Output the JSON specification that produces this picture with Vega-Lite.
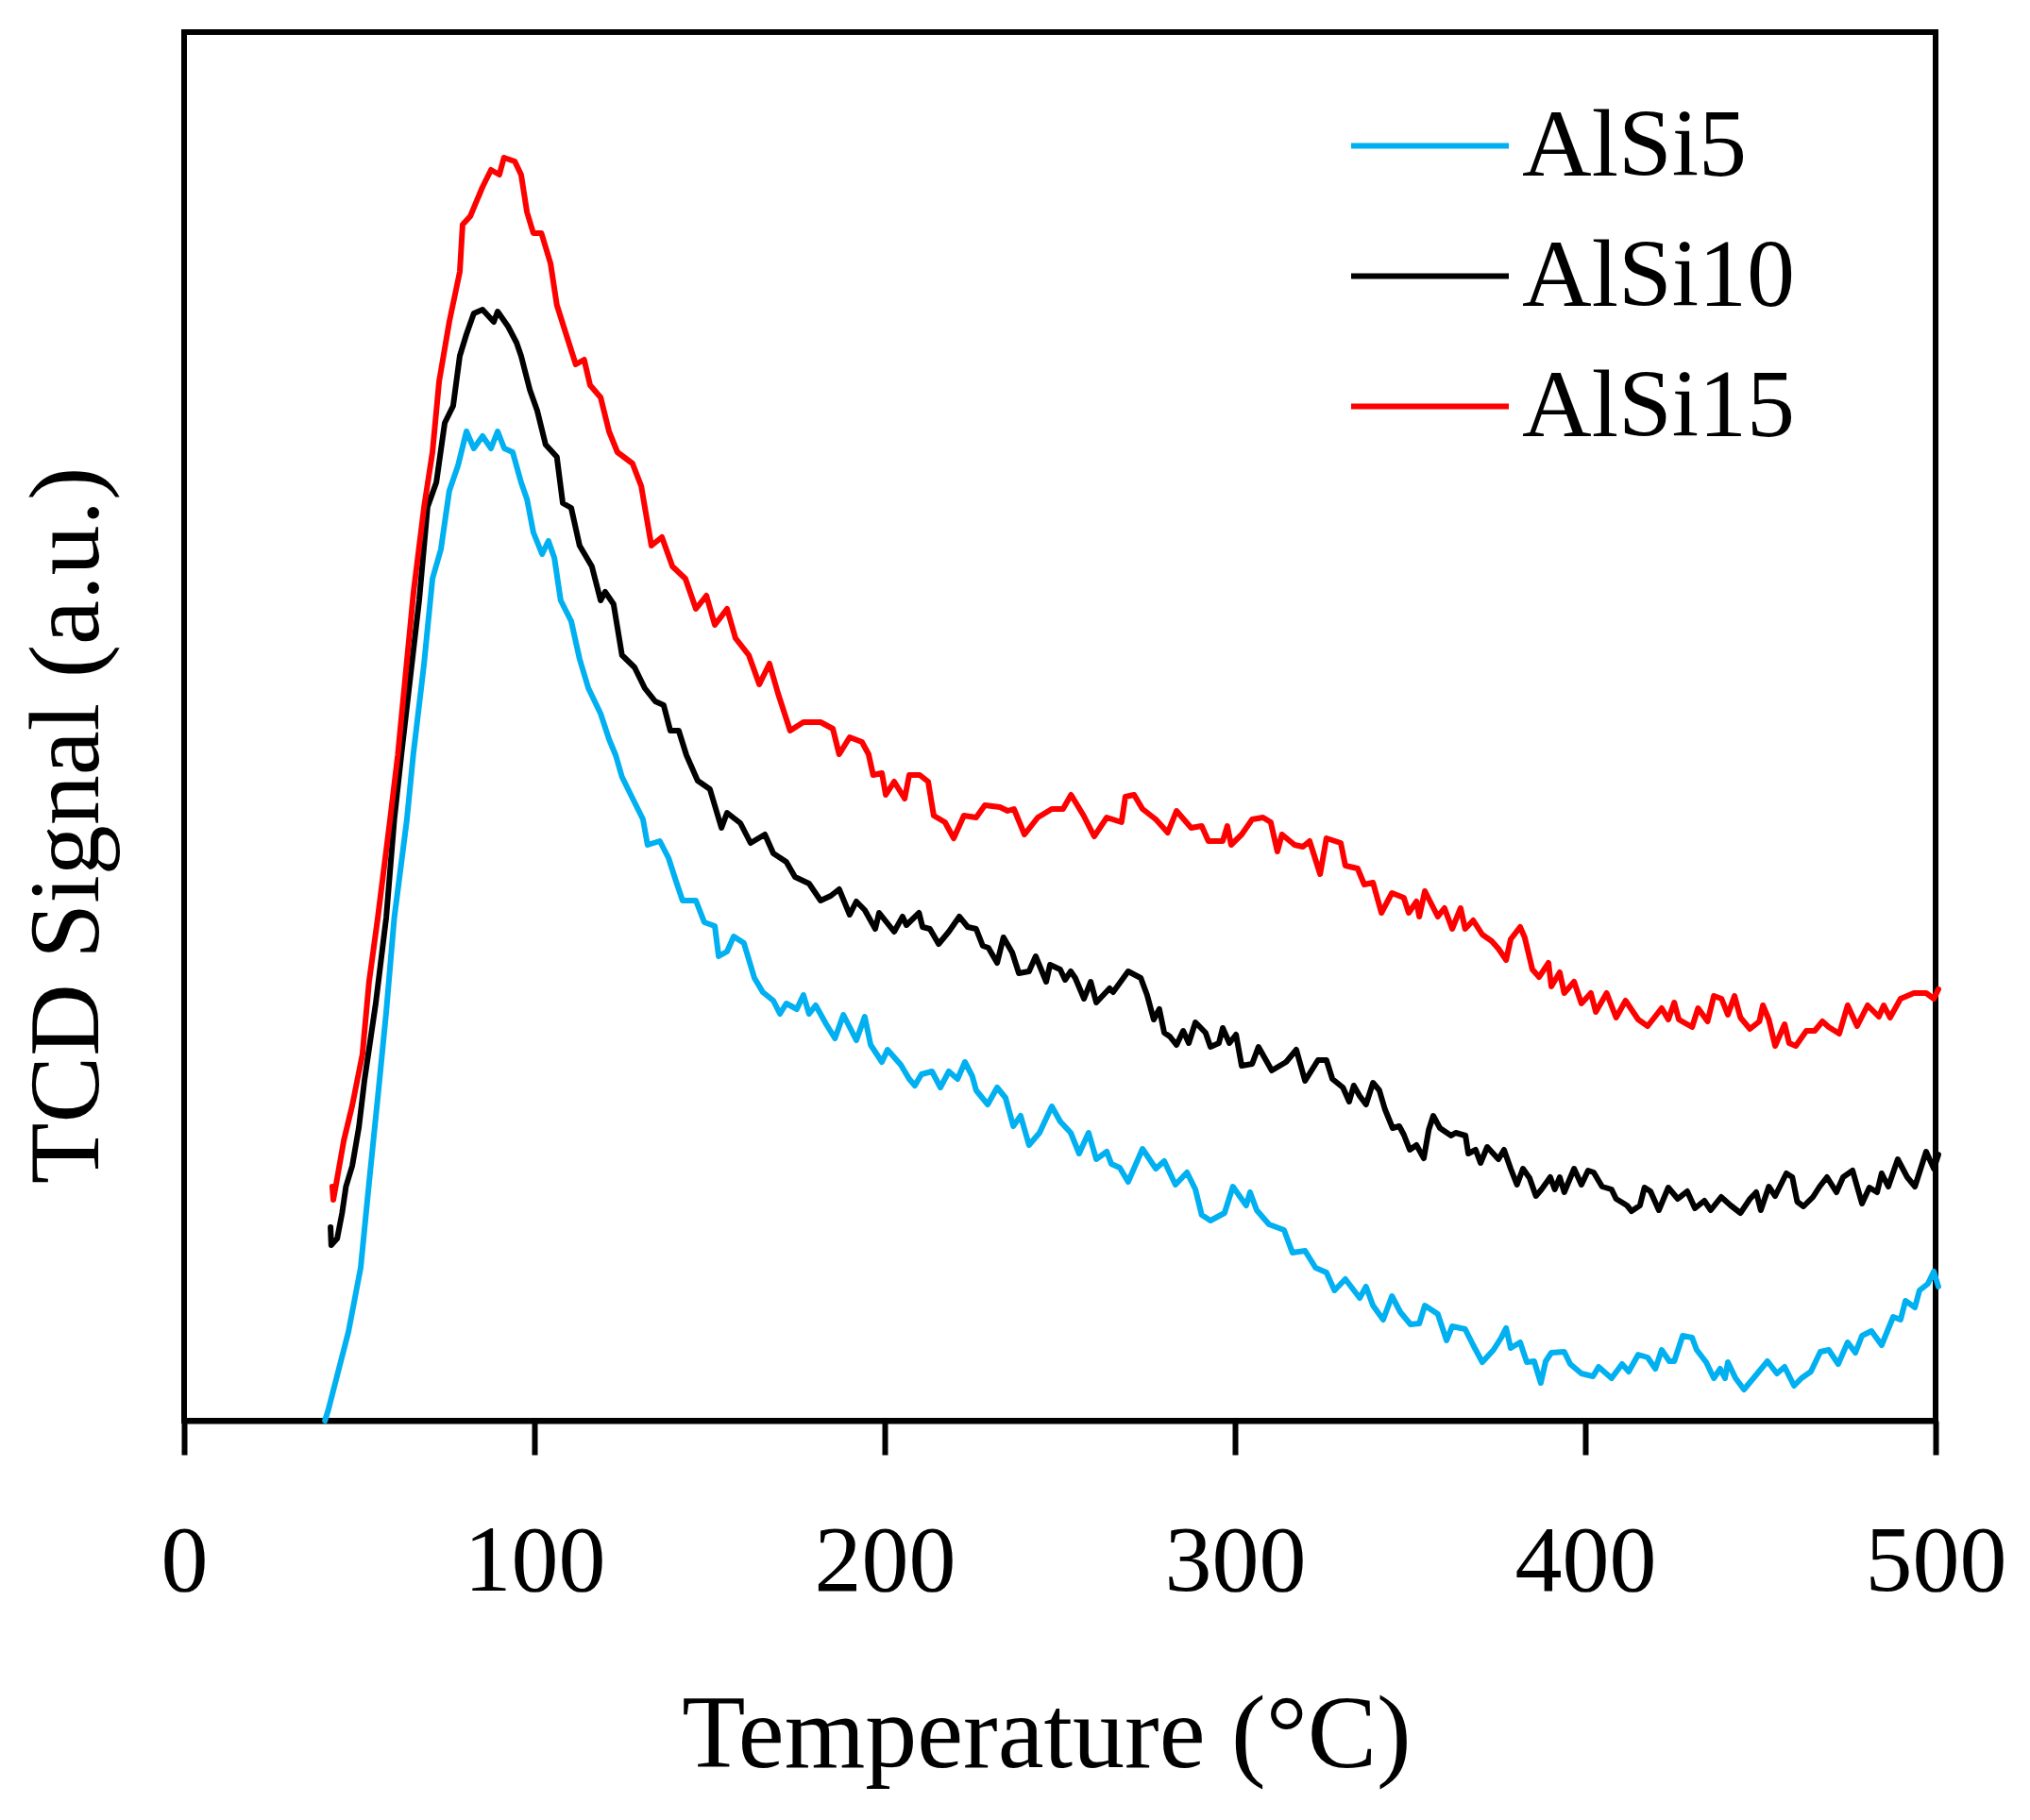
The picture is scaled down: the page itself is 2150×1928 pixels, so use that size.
{
  "$schema": "https://vega.github.io/schema/vega-lite/v6.json",
  "width": 1855,
  "height": 1471,
  "autosize": {"type": "none"},
  "padding": {"left": 195, "top": 34, "right": 100, "bottom": 423},
  "background": "white",
  "config": {
    "view": {"stroke": "black", "strokeWidth": 6},
    "font": "Liberation Serif",
    "legend": {
      "orient": "none",
      "legendX": 1233,
      "legendY": 34,
      "title": null,
      "symbolType": "stroke",
      "symbolSize": 27889,
      "symbolStrokeWidth": 6,
      "labelFont": "Liberation Serif",
      "labelFontSize": 102,
      "labelColor": "black",
      "labelOffset": 11,
      "rowPadding": -10,
      "labelLimit": 600
    }
  },
  "data": {
    "values": [
      {"s": "AlSi5", "t": 40.2, "v": 0}, {"s": "AlSi5", "t": 41.2, "v": 12}, {"s": "AlSi5", "t": 43.7, "v": 48}, {"s": "AlSi5", "t": 46.9, "v": 94},
      {"s": "AlSi5", "t": 50.4, "v": 162}, {"s": "AlSi5", "t": 52.8, "v": 252}, {"s": "AlSi5", "t": 55.3, "v": 343}, {"s": "AlSi5", "t": 57.7, "v": 433},
      {"s": "AlSi5", "t": 60, "v": 533}, {"s": "AlSi5", "t": 63.6, "v": 637}, {"s": "AlSi5", "t": 65.4, "v": 705}, {"s": "AlSi5", "t": 68.5, "v": 802},
      {"s": "AlSi5", "t": 70.9, "v": 892}, {"s": "AlSi5", "t": 73.3, "v": 923}, {"s": "AlSi5", "t": 75.7, "v": 985}, {"s": "AlSi5", "t": 78.2, "v": 1012},
      {"s": "AlSi5", "t": 80.6, "v": 1048}, {"s": "AlSi5", "t": 82.7, "v": 1030}, {"s": "AlSi5", "t": 85.2, "v": 1043}, {"s": "AlSi5", "t": 87.6, "v": 1030},
      {"s": "AlSi5", "t": 89.5, "v": 1048}, {"s": "AlSi5", "t": 91.4, "v": 1030}, {"s": "AlSi5", "t": 93.8, "v": 1026}, {"s": "AlSi5", "t": 96.2, "v": 994},
      {"s": "AlSi5", "t": 97.9, "v": 976}, {"s": "AlSi5", "t": 99.7, "v": 941}, {"s": "AlSi5", "t": 102.2, "v": 918}, {"s": "AlSi5", "t": 104, "v": 932},
      {"s": "AlSi5", "t": 105.7, "v": 914}, {"s": "AlSi5", "t": 107.5, "v": 869}, {"s": "AlSi5", "t": 110.5, "v": 847}, {"s": "AlSi5", "t": 112.9, "v": 807},
      {"s": "AlSi5", "t": 115.4, "v": 776}, {"s": "AlSi5", "t": 118.9, "v": 749}, {"s": "AlSi5", "t": 121.3, "v": 722}, {"s": "AlSi5", "t": 123.2, "v": 705},
      {"s": "AlSi5", "t": 125, "v": 682}, {"s": "AlSi5", "t": 128.6, "v": 655}, {"s": "AlSi5", "t": 131, "v": 637}, {"s": "AlSi5", "t": 132.3, "v": 610},
      {"s": "AlSi5", "t": 135.8, "v": 614}, {"s": "AlSi5", "t": 138.3, "v": 596}, {"s": "AlSi5", "t": 140.2, "v": 574}, {"s": "AlSi5", "t": 142.3, "v": 551},
      {"s": "AlSi5", "t": 146.1, "v": 551}, {"s": "AlSi5", "t": 148.5, "v": 528}, {"s": "AlSi5", "t": 151.5, "v": 524}, {"s": "AlSi5", "t": 152.6, "v": 492},
      {"s": "AlSi5", "t": 155, "v": 497}, {"s": "AlSi5", "t": 156.9, "v": 513}, {"s": "AlSi5", "t": 159.8, "v": 506}, {"s": "AlSi5", "t": 162.8, "v": 469},
      {"s": "AlSi5", "t": 165.2, "v": 454}, {"s": "AlSi5", "t": 168.2, "v": 445}, {"s": "AlSi5", "t": 170.1, "v": 431}, {"s": "AlSi5", "t": 171.9, "v": 442},
      {"s": "AlSi5", "t": 174.9, "v": 436}, {"s": "AlSi5", "t": 176.8, "v": 451}, {"s": "AlSi5", "t": 178.4, "v": 431}, {"s": "AlSi5", "t": 180.3, "v": 440},
      {"s": "AlSi5", "t": 183.3, "v": 420}, {"s": "AlSi5", "t": 185.8, "v": 405}, {"s": "AlSi5", "t": 188.2, "v": 430}, {"s": "AlSi5", "t": 191.9, "v": 403},
      {"s": "AlSi5", "t": 194.3, "v": 428}, {"s": "AlSi5", "t": 196, "v": 398}, {"s": "AlSi5", "t": 199.2, "v": 380}, {"s": "AlSi5", "t": 200.8, "v": 393},
      {"s": "AlSi5", "t": 204.6, "v": 377}, {"s": "AlSi5", "t": 207, "v": 362}, {"s": "AlSi5", "t": 208.6, "v": 355}, {"s": "AlSi5", "t": 210.5, "v": 367},
      {"s": "AlSi5", "t": 213.5, "v": 370}, {"s": "AlSi5", "t": 215.9, "v": 353}, {"s": "AlSi5", "t": 218.3, "v": 370}, {"s": "AlSi5", "t": 220.8, "v": 362},
      {"s": "AlSi5", "t": 222.9, "v": 380}, {"s": "AlSi5", "t": 225, "v": 365}, {"s": "AlSi5", "t": 226.1, "v": 350}, {"s": "AlSi5", "t": 229.4, "v": 335},
      {"s": "AlSi5", "t": 232.1, "v": 353}, {"s": "AlSi5", "t": 234.5, "v": 342}, {"s": "AlSi5", "t": 236.7, "v": 312}, {"s": "AlSi5", "t": 238.8, "v": 323},
      {"s": "AlSi5", "t": 241.2, "v": 292}, {"s": "AlSi5", "t": 244.2, "v": 305}, {"s": "AlSi5", "t": 247.7, "v": 333}, {"s": "AlSi5", "t": 250.1, "v": 317},
      {"s": "AlSi5", "t": 253.1, "v": 305}, {"s": "AlSi5", "t": 255.5, "v": 283}, {"s": "AlSi5", "t": 258.2, "v": 305}, {"s": "AlSi5", "t": 260.4, "v": 277},
      {"s": "AlSi5", "t": 263.4, "v": 285}, {"s": "AlSi5", "t": 264.7, "v": 272}, {"s": "AlSi5", "t": 267.1, "v": 268}, {"s": "AlSi5", "t": 269.5, "v": 253},
      {"s": "AlSi5", "t": 273.6, "v": 288}, {"s": "AlSi5", "t": 277.4, "v": 267}, {"s": "AlSi5", "t": 279.8, "v": 275}, {"s": "AlSi5", "t": 283, "v": 250},
      {"s": "AlSi5", "t": 286.3, "v": 263}, {"s": "AlSi5", "t": 288.7, "v": 245}, {"s": "AlSi5", "t": 290.5, "v": 218}, {"s": "AlSi5", "t": 293, "v": 212},
      {"s": "AlSi5", "t": 297, "v": 220}, {"s": "AlSi5", "t": 299.4, "v": 248}, {"s": "AlSi5", "t": 303.2, "v": 228}, {"s": "AlSi5", "t": 304.3, "v": 242},
      {"s": "AlSi5", "t": 306.2, "v": 223}, {"s": "AlSi5", "t": 309.7, "v": 208}, {"s": "AlSi5", "t": 314, "v": 202}, {"s": "AlSi5", "t": 316.4, "v": 178},
      {"s": "AlSi5", "t": 320, "v": 180}, {"s": "AlSi5", "t": 323, "v": 162}, {"s": "AlSi5", "t": 326.1, "v": 157}, {"s": "AlSi5", "t": 328.4, "v": 138},
      {"s": "AlSi5", "t": 331.5, "v": 150}, {"s": "AlSi5", "t": 335.6, "v": 130}, {"s": "AlSi5", "t": 337.4, "v": 142}, {"s": "AlSi5", "t": 339.4, "v": 122},
      {"s": "AlSi5", "t": 342.3, "v": 107}, {"s": "AlSi5", "t": 344.8, "v": 132}, {"s": "AlSi5", "t": 347.2, "v": 115}, {"s": "AlSi5", "t": 350.1, "v": 102},
      {"s": "AlSi5", "t": 352.6, "v": 103}, {"s": "AlSi5", "t": 354.2, "v": 122}, {"s": "AlSi5", "t": 357.9, "v": 113}, {"s": "AlSi5", "t": 360.4, "v": 85},
      {"s": "AlSi5", "t": 362, "v": 100}, {"s": "AlSi5", "t": 365.7, "v": 97}, {"s": "AlSi5", "t": 368, "v": 80}, {"s": "AlSi5", "t": 370.6, "v": 62},
      {"s": "AlSi5", "t": 373.8, "v": 75}, {"s": "AlSi5", "t": 376, "v": 88}, {"s": "AlSi5", "t": 377.4, "v": 98}, {"s": "AlSi5", "t": 378.7, "v": 77},
      {"s": "AlSi5", "t": 381.4, "v": 83}, {"s": "AlSi5", "t": 383.3, "v": 62}, {"s": "AlSi5", "t": 385.4, "v": 63}, {"s": "AlSi5", "t": 387.3, "v": 40},
      {"s": "AlSi5", "t": 388.7, "v": 63}, {"s": "AlSi5", "t": 390.3, "v": 72}, {"s": "AlSi5", "t": 394, "v": 73}, {"s": "AlSi5", "t": 395.7, "v": 60},
      {"s": "AlSi5", "t": 398.9, "v": 50}, {"s": "AlSi5", "t": 402.2, "v": 47}, {"s": "AlSi5", "t": 403.8, "v": 57}, {"s": "AlSi5", "t": 407.5, "v": 45},
      {"s": "AlSi5", "t": 410.5, "v": 60}, {"s": "AlSi5", "t": 412.4, "v": 52}, {"s": "AlSi5", "t": 415.1, "v": 70}, {"s": "AlSi5", "t": 417.8, "v": 67},
      {"s": "AlSi5", "t": 420, "v": 55}, {"s": "AlSi5", "t": 421.8, "v": 75}, {"s": "AlSi5", "t": 424, "v": 63}, {"s": "AlSi5", "t": 425.4, "v": 63},
      {"s": "AlSi5", "t": 427.8, "v": 90}, {"s": "AlSi5", "t": 430.5, "v": 88}, {"s": "AlSi5", "t": 431.8, "v": 75}, {"s": "AlSi5", "t": 434.5, "v": 62},
      {"s": "AlSi5", "t": 436.7, "v": 45}, {"s": "AlSi5", "t": 438.5, "v": 55}, {"s": "AlSi5", "t": 439.9, "v": 45}, {"s": "AlSi5", "t": 440.7, "v": 62},
      {"s": "AlSi5", "t": 442.9, "v": 45}, {"s": "AlSi5", "t": 445.3, "v": 33}, {"s": "AlSi5", "t": 448, "v": 45}, {"s": "AlSi5", "t": 452, "v": 63},
      {"s": "AlSi5", "t": 454.7, "v": 50}, {"s": "AlSi5", "t": 456.9, "v": 57}, {"s": "AlSi5", "t": 459.6, "v": 37}, {"s": "AlSi5", "t": 461.7, "v": 45},
      {"s": "AlSi5", "t": 464.4, "v": 52}, {"s": "AlSi5", "t": 467.1, "v": 73}, {"s": "AlSi5", "t": 469.5, "v": 75}, {"s": "AlSi5", "t": 472.2, "v": 60},
      {"s": "AlSi5", "t": 474.9, "v": 83}, {"s": "AlSi5", "t": 477.1, "v": 72}, {"s": "AlSi5", "t": 479, "v": 90}, {"s": "AlSi5", "t": 481.7, "v": 95},
      {"s": "AlSi5", "t": 484.6, "v": 80}, {"s": "AlSi5", "t": 487.9, "v": 110}, {"s": "AlSi5", "t": 490, "v": 107}, {"s": "AlSi5", "t": 491.4, "v": 127},
      {"s": "AlSi5", "t": 494.1, "v": 120}, {"s": "AlSi5", "t": 495.4, "v": 138}, {"s": "AlSi5", "t": 497.8, "v": 145}, {"s": "AlSi5", "t": 499.5, "v": 158},
      {"s": "AlSi5", "t": 500.8, "v": 142},

      {"s": "AlSi10", "t": 41.8, "v": 205}, {"s": "AlSi10", "t": 42, "v": 186}, {"s": "AlSi10", "t": 43.7, "v": 193}, {"s": "AlSi10", "t": 45.1, "v": 220},
      {"s": "AlSi10", "t": 46.2, "v": 248}, {"s": "AlSi10", "t": 48, "v": 270}, {"s": "AlSi10", "t": 49.9, "v": 311}, {"s": "AlSi10", "t": 51.5, "v": 361},
      {"s": "AlSi10", "t": 54.7, "v": 442}, {"s": "AlSi10", "t": 57.7, "v": 533}, {"s": "AlSi10", "t": 60, "v": 637}, {"s": "AlSi10", "t": 62, "v": 705},
      {"s": "AlSi10", "t": 67.1, "v": 869}, {"s": "AlSi10", "t": 69.5, "v": 968}, {"s": "AlSi10", "t": 72, "v": 994}, {"s": "AlSi10", "t": 74.4, "v": 1057},
      {"s": "AlSi10", "t": 76.8, "v": 1075}, {"s": "AlSi10", "t": 78.7, "v": 1128}, {"s": "AlSi10", "t": 80.6, "v": 1151}, {"s": "AlSi10", "t": 82.7, "v": 1173},
      {"s": "AlSi10", "t": 85.2, "v": 1177}, {"s": "AlSi10", "t": 88.4, "v": 1164}, {"s": "AlSi10", "t": 89.5, "v": 1175}, {"s": "AlSi10", "t": 92.5, "v": 1159},
      {"s": "AlSi10", "t": 94.9, "v": 1142}, {"s": "AlSi10", "t": 96.2, "v": 1128}, {"s": "AlSi10", "t": 98.7, "v": 1092}, {"s": "AlSi10", "t": 100.8, "v": 1070},
      {"s": "AlSi10", "t": 103.2, "v": 1034}, {"s": "AlSi10", "t": 106.4, "v": 1021}, {"s": "AlSi10", "t": 108.1, "v": 972}, {"s": "AlSi10", "t": 110.5, "v": 967},
      {"s": "AlSi10", "t": 112.9, "v": 927}, {"s": "AlSi10", "t": 116.4, "v": 905}, {"s": "AlSi10", "t": 118.9, "v": 869}, {"s": "AlSi10", "t": 120.2, "v": 878},
      {"s": "AlSi10", "t": 122.6, "v": 865}, {"s": "AlSi10", "t": 125, "v": 811}, {"s": "AlSi10", "t": 128.6, "v": 798}, {"s": "AlSi10", "t": 131.5, "v": 776},
      {"s": "AlSi10", "t": 134.5, "v": 762}, {"s": "AlSi10", "t": 136.9, "v": 758}, {"s": "AlSi10", "t": 138.8, "v": 731}, {"s": "AlSi10", "t": 141.2, "v": 731},
      {"s": "AlSi10", "t": 143.4, "v": 705}, {"s": "AlSi10", "t": 146.6, "v": 678}, {"s": "AlSi10", "t": 150.1, "v": 669}, {"s": "AlSi10", "t": 153.4, "v": 628},
      {"s": "AlSi10", "t": 155, "v": 644}, {"s": "AlSi10", "t": 158.8, "v": 633}, {"s": "AlSi10", "t": 161.7, "v": 612}, {"s": "AlSi10", "t": 165.8, "v": 621},
      {"s": "AlSi10", "t": 168.2, "v": 601}, {"s": "AlSi10", "t": 171.9, "v": 592}, {"s": "AlSi10", "t": 174.4, "v": 576}, {"s": "AlSi10", "t": 178.4, "v": 569},
      {"s": "AlSi10", "t": 181.7, "v": 551}, {"s": "AlSi10", "t": 184.6, "v": 556}, {"s": "AlSi10", "t": 187, "v": 563}, {"s": "AlSi10", "t": 190, "v": 536},
      {"s": "AlSi10", "t": 191.9, "v": 550}, {"s": "AlSi10", "t": 194.3, "v": 541}, {"s": "AlSi10", "t": 197.3, "v": 521}, {"s": "AlSi10", "t": 198.4, "v": 538},
      {"s": "AlSi10", "t": 202.7, "v": 518}, {"s": "AlSi10", "t": 205.1, "v": 534}, {"s": "AlSi10", "t": 206.2, "v": 525}, {"s": "AlSi10", "t": 209.8, "v": 538},
      {"s": "AlSi10", "t": 210.8, "v": 523}, {"s": "AlSi10", "t": 212.9, "v": 521}, {"s": "AlSi10", "t": 215.4, "v": 505}, {"s": "AlSi10", "t": 218.3, "v": 518},
      {"s": "AlSi10", "t": 221.3, "v": 534}, {"s": "AlSi10", "t": 223.7, "v": 523}, {"s": "AlSi10", "t": 226.1, "v": 521}, {"s": "AlSi10", "t": 228, "v": 503},
      {"s": "AlSi10", "t": 229.6, "v": 501}, {"s": "AlSi10", "t": 232.1, "v": 485}, {"s": "AlSi10", "t": 233.9, "v": 512}, {"s": "AlSi10", "t": 236.4, "v": 496},
      {"s": "AlSi10", "t": 238.3, "v": 474}, {"s": "AlSi10", "t": 241.2, "v": 476}, {"s": "AlSi10", "t": 243.1, "v": 492}, {"s": "AlSi10", "t": 246.1, "v": 465},
      {"s": "AlSi10", "t": 247.2, "v": 483}, {"s": "AlSi10", "t": 250.1, "v": 478}, {"s": "AlSi10", "t": 251.5, "v": 467}, {"s": "AlSi10", "t": 253.1, "v": 476},
      {"s": "AlSi10", "t": 254.4, "v": 469}, {"s": "AlSi10", "t": 256.9, "v": 447}, {"s": "AlSi10", "t": 258.8, "v": 465}, {"s": "AlSi10", "t": 260.4, "v": 443},
      {"s": "AlSi10", "t": 264.2, "v": 458}, {"s": "AlSi10", "t": 265.2, "v": 454}, {"s": "AlSi10", "t": 269.5, "v": 476}, {"s": "AlSi10", "t": 273.1, "v": 469},
      {"s": "AlSi10", "t": 274.9, "v": 451}, {"s": "AlSi10", "t": 276.8, "v": 425}, {"s": "AlSi10", "t": 278.4, "v": 436}, {"s": "AlSi10", "t": 279.8, "v": 411},
      {"s": "AlSi10", "t": 281.4, "v": 407}, {"s": "AlSi10", "t": 283.3, "v": 398}, {"s": "AlSi10", "t": 285.2, "v": 413}, {"s": "AlSi10", "t": 286.8, "v": 400},
      {"s": "AlSi10", "t": 288.7, "v": 422}, {"s": "AlSi10", "t": 291.6, "v": 411}, {"s": "AlSi10", "t": 293, "v": 396}, {"s": "AlSi10", "t": 295.4, "v": 400},
      {"s": "AlSi10", "t": 296.5, "v": 416}, {"s": "AlSi10", "t": 298.4, "v": 400}, {"s": "AlSi10", "t": 300.3, "v": 409}, {"s": "AlSi10", "t": 301.9, "v": 376},
      {"s": "AlSi10", "t": 304.9, "v": 378}, {"s": "AlSi10", "t": 306.7, "v": 396}, {"s": "AlSi10", "t": 310.5, "v": 371}, {"s": "AlSi10", "t": 314.6, "v": 380},
      {"s": "AlSi10", "t": 317.5, "v": 393}, {"s": "AlSi10", "t": 320, "v": 360}, {"s": "AlSi10", "t": 323.7, "v": 382}, {"s": "AlSi10", "t": 326.1, "v": 382},
      {"s": "AlSi10", "t": 327.8, "v": 362}, {"s": "AlSi10", "t": 330.8, "v": 353}, {"s": "AlSi10", "t": 332.6, "v": 338}, {"s": "AlSi10", "t": 333.9, "v": 355},
      {"s": "AlSi10", "t": 335.6, "v": 344}, {"s": "AlSi10", "t": 337.4, "v": 335}, {"s": "AlSi10", "t": 339.4, "v": 358}, {"s": "AlSi10", "t": 341.2, "v": 350},
      {"s": "AlSi10", "t": 342.8, "v": 330}, {"s": "AlSi10", "t": 345, "v": 310}, {"s": "AlSi10", "t": 346.9, "v": 312}, {"s": "AlSi10", "t": 348.2, "v": 303},
      {"s": "AlSi10", "t": 349.9, "v": 287}, {"s": "AlSi10", "t": 351.8, "v": 292}, {"s": "AlSi10", "t": 353.9, "v": 278}, {"s": "AlSi10", "t": 355.3, "v": 308},
      {"s": "AlSi10", "t": 356.6, "v": 323}, {"s": "AlSi10", "t": 358.5, "v": 310}, {"s": "AlSi10", "t": 361.7, "v": 302}, {"s": "AlSi10", "t": 363, "v": 305},
      {"s": "AlSi10", "t": 365.8, "v": 302}, {"s": "AlSi10", "t": 366.6, "v": 283}, {"s": "AlSi10", "t": 368.7, "v": 287}, {"s": "AlSi10", "t": 370.1, "v": 273},
      {"s": "AlSi10", "t": 372, "v": 290}, {"s": "AlSi10", "t": 375.2, "v": 277}, {"s": "AlSi10", "t": 376.8, "v": 287}, {"s": "AlSi10", "t": 378.7, "v": 267},
      {"s": "AlSi10", "t": 380.5, "v": 250}, {"s": "AlSi10", "t": 382.2, "v": 267}, {"s": "AlSi10", "t": 384.1, "v": 257}, {"s": "AlSi10", "t": 385.9, "v": 238},
      {"s": "AlSi10", "t": 387.5, "v": 245}, {"s": "AlSi10", "t": 390, "v": 258}, {"s": "AlSi10", "t": 391.3, "v": 245}, {"s": "AlSi10", "t": 392.7, "v": 258},
      {"s": "AlSi10", "t": 394, "v": 242}, {"s": "AlSi10", "t": 396.8, "v": 267}, {"s": "AlSi10", "t": 398.9, "v": 250}, {"s": "AlSi10", "t": 400.8, "v": 265},
      {"s": "AlSi10", "t": 402.4, "v": 263}, {"s": "AlSi10", "t": 404.8, "v": 248}, {"s": "AlSi10", "t": 407.5, "v": 245}, {"s": "AlSi10", "t": 408.8, "v": 235},
      {"s": "AlSi10", "t": 411.9, "v": 228}, {"s": "AlSi10", "t": 413.2, "v": 222}, {"s": "AlSi10", "t": 415.6, "v": 228}, {"s": "AlSi10", "t": 416.9, "v": 247},
      {"s": "AlSi10", "t": 418.6, "v": 243}, {"s": "AlSi10", "t": 421, "v": 223}, {"s": "AlSi10", "t": 423.7, "v": 247}, {"s": "AlSi10", "t": 426.4, "v": 235},
      {"s": "AlSi10", "t": 429.1, "v": 243}, {"s": "AlSi10", "t": 431.3, "v": 225}, {"s": "AlSi10", "t": 434, "v": 233}, {"s": "AlSi10", "t": 435.8, "v": 223},
      {"s": "AlSi10", "t": 438.8, "v": 237}, {"s": "AlSi10", "t": 441.5, "v": 228}, {"s": "AlSi10", "t": 444.3, "v": 220}, {"s": "AlSi10", "t": 447, "v": 235},
      {"s": "AlSi10", "t": 448.8, "v": 242}, {"s": "AlSi10", "t": 450.1, "v": 223}, {"s": "AlSi10", "t": 452.4, "v": 248}, {"s": "AlSi10", "t": 454.2, "v": 238},
      {"s": "AlSi10", "t": 457.4, "v": 262}, {"s": "AlSi10", "t": 459.1, "v": 258}, {"s": "AlSi10", "t": 460.5, "v": 232}, {"s": "AlSi10", "t": 462.3, "v": 227},
      {"s": "AlSi10", "t": 465, "v": 237}, {"s": "AlSi10", "t": 466.9, "v": 248}, {"s": "AlSi10", "t": 469, "v": 258}, {"s": "AlSi10", "t": 471.7, "v": 242},
      {"s": "AlSi10", "t": 473.6, "v": 258}, {"s": "AlSi10", "t": 476.3, "v": 265}, {"s": "AlSi10", "t": 479, "v": 230}, {"s": "AlSi10", "t": 481.1, "v": 247},
      {"s": "AlSi10", "t": 483.3, "v": 242}, {"s": "AlSi10", "t": 484.6, "v": 262}, {"s": "AlSi10", "t": 486.5, "v": 248}, {"s": "AlSi10", "t": 489.2, "v": 277},
      {"s": "AlSi10", "t": 491.9, "v": 258}, {"s": "AlSi10", "t": 494.1, "v": 248}, {"s": "AlSi10", "t": 497.3, "v": 285}, {"s": "AlSi10", "t": 499.5, "v": 267},
      {"s": "AlSi10", "t": 500.8, "v": 282},

      {"s": "AlSi15", "t": 42.3, "v": 248}, {"s": "AlSi15", "t": 42.6, "v": 234}, {"s": "AlSi15", "t": 43.7, "v": 257}, {"s": "AlSi15", "t": 45.6, "v": 297},
      {"s": "AlSi15", "t": 48, "v": 334}, {"s": "AlSi15", "t": 50.9, "v": 388}, {"s": "AlSi15", "t": 52.8, "v": 465}, {"s": "AlSi15", "t": 55.3, "v": 533},
      {"s": "AlSi15", "t": 58.8, "v": 637}, {"s": "AlSi15", "t": 61, "v": 705}, {"s": "AlSi15", "t": 65.5, "v": 878}, {"s": "AlSi15", "t": 68.5, "v": 968},
      {"s": "AlSi15", "t": 70.9, "v": 1026}, {"s": "AlSi15", "t": 72.8, "v": 1101}, {"s": "AlSi15", "t": 75.7, "v": 1164}, {"s": "AlSi15", "t": 78.7, "v": 1217},
      {"s": "AlSi15", "t": 79.5, "v": 1267}, {"s": "AlSi15", "t": 81.7, "v": 1276}, {"s": "AlSi15", "t": 85.2, "v": 1307}, {"s": "AlSi15", "t": 87.6, "v": 1325},
      {"s": "AlSi15", "t": 90, "v": 1320}, {"s": "AlSi15", "t": 91.3, "v": 1338}, {"s": "AlSi15", "t": 94.4, "v": 1334}, {"s": "AlSi15", "t": 96.2, "v": 1320},
      {"s": "AlSi15", "t": 97.9, "v": 1280}, {"s": "AlSi15", "t": 99.7, "v": 1258}, {"s": "AlSi15", "t": 102, "v": 1258}, {"s": "AlSi15", "t": 104.6, "v": 1226},
      {"s": "AlSi15", "t": 106.4, "v": 1182}, {"s": "AlSi15", "t": 108.7, "v": 1155}, {"s": "AlSi15", "t": 111.8, "v": 1119}, {"s": "AlSi15", "t": 114.2, "v": 1124},
      {"s": "AlSi15", "t": 115.9, "v": 1097}, {"s": "AlSi15", "t": 118.9, "v": 1084}, {"s": "AlSi15", "t": 121.3, "v": 1048}, {"s": "AlSi15", "t": 123.7, "v": 1026},
      {"s": "AlSi15", "t": 128, "v": 1014}, {"s": "AlSi15", "t": 130.5, "v": 990}, {"s": "AlSi15", "t": 133.4, "v": 927}, {"s": "AlSi15", "t": 136.4, "v": 936},
      {"s": "AlSi15", "t": 139.4, "v": 905}, {"s": "AlSi15", "t": 143.1, "v": 892}, {"s": "AlSi15", "t": 146.1, "v": 860}, {"s": "AlSi15", "t": 149.1, "v": 874},
      {"s": "AlSi15", "t": 151.5, "v": 843}, {"s": "AlSi15", "t": 155, "v": 860}, {"s": "AlSi15", "t": 157.4, "v": 829}, {"s": "AlSi15", "t": 161.2, "v": 811},
      {"s": "AlSi15", "t": 164.2, "v": 780}, {"s": "AlSi15", "t": 167.1, "v": 802}, {"s": "AlSi15", "t": 169.5, "v": 771}, {"s": "AlSi15", "t": 173, "v": 731},
      {"s": "AlSi15", "t": 176.8, "v": 740}, {"s": "AlSi15", "t": 181.7, "v": 740}, {"s": "AlSi15", "t": 185.2, "v": 733}, {"s": "AlSi15", "t": 187, "v": 706},
      {"s": "AlSi15", "t": 190, "v": 724}, {"s": "AlSi15", "t": 193.5, "v": 719}, {"s": "AlSi15", "t": 195.4, "v": 706}, {"s": "AlSi15", "t": 196.7, "v": 684},
      {"s": "AlSi15", "t": 199.2, "v": 686}, {"s": "AlSi15", "t": 200.3, "v": 663}, {"s": "AlSi15", "t": 202.7, "v": 677}, {"s": "AlSi15", "t": 205.7, "v": 659},
      {"s": "AlSi15", "t": 207, "v": 684}, {"s": "AlSi15", "t": 210, "v": 684}, {"s": "AlSi15", "t": 212.4, "v": 677}, {"s": "AlSi15", "t": 214, "v": 641},
      {"s": "AlSi15", "t": 217.2, "v": 634}, {"s": "AlSi15", "t": 219.7, "v": 617}, {"s": "AlSi15", "t": 222.6, "v": 641}, {"s": "AlSi15", "t": 226.1, "v": 639},
      {"s": "AlSi15", "t": 228.6, "v": 652}, {"s": "AlSi15", "t": 232.9, "v": 650}, {"s": "AlSi15", "t": 235.1, "v": 646}, {"s": "AlSi15", "t": 236.9, "v": 648},
      {"s": "AlSi15", "t": 239.9, "v": 621}, {"s": "AlSi15", "t": 243.7, "v": 639}, {"s": "AlSi15", "t": 247.7, "v": 648}, {"s": "AlSi15", "t": 250.9, "v": 648},
      {"s": "AlSi15", "t": 253.2, "v": 663}, {"s": "AlSi15", "t": 256.8, "v": 641}, {"s": "AlSi15", "t": 259.8, "v": 619}, {"s": "AlSi15", "t": 263.4, "v": 639},
      {"s": "AlSi15", "t": 267.6, "v": 634}, {"s": "AlSi15", "t": 268.7, "v": 661}, {"s": "AlSi15", "t": 271.2, "v": 663}, {"s": "AlSi15", "t": 273.6, "v": 648},
      {"s": "AlSi15", "t": 277.4, "v": 637}, {"s": "AlSi15", "t": 280.8, "v": 623}, {"s": "AlSi15", "t": 283.3, "v": 646}, {"s": "AlSi15", "t": 287.5, "v": 628},
      {"s": "AlSi15", "t": 290.5, "v": 630}, {"s": "AlSi15", "t": 292.4, "v": 614}, {"s": "AlSi15", "t": 296.5, "v": 614}, {"s": "AlSi15", "t": 297.8, "v": 630},
      {"s": "AlSi15", "t": 298.9, "v": 610}, {"s": "AlSi15", "t": 301.9, "v": 621}, {"s": "AlSi15", "t": 304.9, "v": 637}, {"s": "AlSi15", "t": 308, "v": 639},
      {"s": "AlSi15", "t": 310.2, "v": 634}, {"s": "AlSi15", "t": 312.1, "v": 603}, {"s": "AlSi15", "t": 313.4, "v": 621}, {"s": "AlSi15", "t": 317, "v": 610},
      {"s": "AlSi15", "t": 319.4, "v": 608}, {"s": "AlSi15", "t": 321.3, "v": 614}, {"s": "AlSi15", "t": 324.3, "v": 579}, {"s": "AlSi15", "t": 326.1, "v": 617},
      {"s": "AlSi15", "t": 330.2, "v": 612}, {"s": "AlSi15", "t": 331.5, "v": 588}, {"s": "AlSi15", "t": 335, "v": 585}, {"s": "AlSi15", "t": 336.9, "v": 568},
      {"s": "AlSi15", "t": 339.4, "v": 570}, {"s": "AlSi15", "t": 341.8, "v": 538}, {"s": "AlSi15", "t": 344.8, "v": 559}, {"s": "AlSi15", "t": 348.2, "v": 554},
      {"s": "AlSi15", "t": 349.6, "v": 538}, {"s": "AlSi15", "t": 351.8, "v": 550}, {"s": "AlSi15", "t": 352.6, "v": 534}, {"s": "AlSi15", "t": 354.2, "v": 561},
      {"s": "AlSi15", "t": 357.9, "v": 534}, {"s": "AlSi15", "t": 359.8, "v": 543}, {"s": "AlSi15", "t": 362, "v": 521}, {"s": "AlSi15", "t": 364.4, "v": 543},
      {"s": "AlSi15", "t": 365.7, "v": 521}, {"s": "AlSi15", "t": 368, "v": 530}, {"s": "AlSi15", "t": 370.6, "v": 515}, {"s": "AlSi15", "t": 373.3, "v": 508},
      {"s": "AlSi15", "t": 375.2, "v": 500}, {"s": "AlSi15", "t": 377.4, "v": 488}, {"s": "AlSi15", "t": 378.7, "v": 510}, {"s": "AlSi15", "t": 381.4, "v": 523},
      {"s": "AlSi15", "t": 382.7, "v": 512}, {"s": "AlSi15", "t": 384.9, "v": 478}, {"s": "AlSi15", "t": 386.8, "v": 470}, {"s": "AlSi15", "t": 389.5, "v": 485},
      {"s": "AlSi15", "t": 390.3, "v": 460}, {"s": "AlSi15", "t": 392.7, "v": 475}, {"s": "AlSi15", "t": 394, "v": 453}, {"s": "AlSi15", "t": 396.8, "v": 465},
      {"s": "AlSi15", "t": 398.9, "v": 442}, {"s": "AlSi15", "t": 401.6, "v": 453}, {"s": "AlSi15", "t": 403, "v": 433}, {"s": "AlSi15", "t": 406.1, "v": 453},
      {"s": "AlSi15", "t": 408.8, "v": 427}, {"s": "AlSi15", "t": 411.5, "v": 445}, {"s": "AlSi15", "t": 415.1, "v": 425}, {"s": "AlSi15", "t": 417.8, "v": 418},
      {"s": "AlSi15", "t": 421.8, "v": 437}, {"s": "AlSi15", "t": 423.7, "v": 425}, {"s": "AlSi15", "t": 425.4, "v": 443}, {"s": "AlSi15", "t": 426.7, "v": 425},
      {"s": "AlSi15", "t": 430.5, "v": 417}, {"s": "AlSi15", "t": 432.2, "v": 437}, {"s": "AlSi15", "t": 434.9, "v": 423}, {"s": "AlSi15", "t": 436.7, "v": 450},
      {"s": "AlSi15", "t": 438.9, "v": 447}, {"s": "AlSi15", "t": 440.7, "v": 430}, {"s": "AlSi15", "t": 442.6, "v": 450}, {"s": "AlSi15", "t": 444.3, "v": 427},
      {"s": "AlSi15", "t": 447, "v": 415}, {"s": "AlSi15", "t": 449.7, "v": 423}, {"s": "AlSi15", "t": 450.7, "v": 440}, {"s": "AlSi15", "t": 452.4, "v": 425},
      {"s": "AlSi15", "t": 454.2, "v": 397}, {"s": "AlSi15", "t": 456.9, "v": 420}, {"s": "AlSi15", "t": 458.2, "v": 400}, {"s": "AlSi15", "t": 460.1, "v": 397},
      {"s": "AlSi15", "t": 463.1, "v": 413}, {"s": "AlSi15", "t": 465.5, "v": 413}, {"s": "AlSi15", "t": 467.7, "v": 423}, {"s": "AlSi15", "t": 469.5, "v": 417},
      {"s": "AlSi15", "t": 472.5, "v": 410}, {"s": "AlSi15", "t": 474.9, "v": 440}, {"s": "AlSi15", "t": 477.6, "v": 418}, {"s": "AlSi15", "t": 480.6, "v": 440},
      {"s": "AlSi15", "t": 483.8, "v": 428}, {"s": "AlSi15", "t": 485.2, "v": 440}, {"s": "AlSi15", "t": 487, "v": 427}, {"s": "AlSi15", "t": 490, "v": 447},
      {"s": "AlSi15", "t": 493.8, "v": 453}, {"s": "AlSi15", "t": 497.3, "v": 453}, {"s": "AlSi15", "t": 499.5, "v": 447}, {"s": "AlSi15", "t": 500.8, "v": 457}
    ]
  },
  "mark": {"type": "line", "strokeWidth": 6, "strokeJoin": "round", "strokeCap": "round"},
  "encoding": {
    "x": {
      "field": "t",
      "type": "quantitative",
      "scale": {"domain": [0, 500], "nice": false, "zero": false},
      "axis": {
        "title": "Temperature (°C)",
        "values": [0, 100, 200, 300, 400, 500],
        "grid": false,
        "domainColor": "black",
        "domainWidth": 6,
        "tickColor": "black",
        "tickWidth": 6,
        "tickSize": 36,
        "labelFont": "Liberation Serif",
        "labelFontSize": 100,
        "labelColor": "black",
        "labelBaseline": "alphabetic",
        "labelPadding": 143,
        "labelFlush": false,
        "labelOverlap": false,
        "titleFont": "Liberation Serif",
        "titleFontSize": 110,
        "titleFontWeight": "normal",
        "titleColor": "black",
        "titleBaseline": "alphabetic",
        "titleAlign": "center",
        "titleX": 913,
        "titleY": 366
      }
    },
    "y": {
      "field": "v",
      "type": "quantitative",
      "scale": {"domain": [0, 1471], "nice": false},
      "axis": {
        "title": "TCD Signal (a.u.)",
        "grid": false,
        "ticks": false,
        "labels": false,
        "domain": false,
        "titleFont": "Liberation Serif",
        "titleFontSize": 106,
        "titleFontWeight": "normal",
        "titleColor": "black",
        "titleAngle": 270,
        "titleBaseline": "alphabetic",
        "titleAlign": "center",
        "titleX": -92,
        "titleY": 840
      }
    },
    "color": {
      "field": "s",
      "type": "nominal",
      "scale": {"domain": ["AlSi5", "AlSi10", "AlSi15"], "range": ["#00B0F0", "#000000", "#FF0000"]},
      "legend": {}
    }
  }
}
